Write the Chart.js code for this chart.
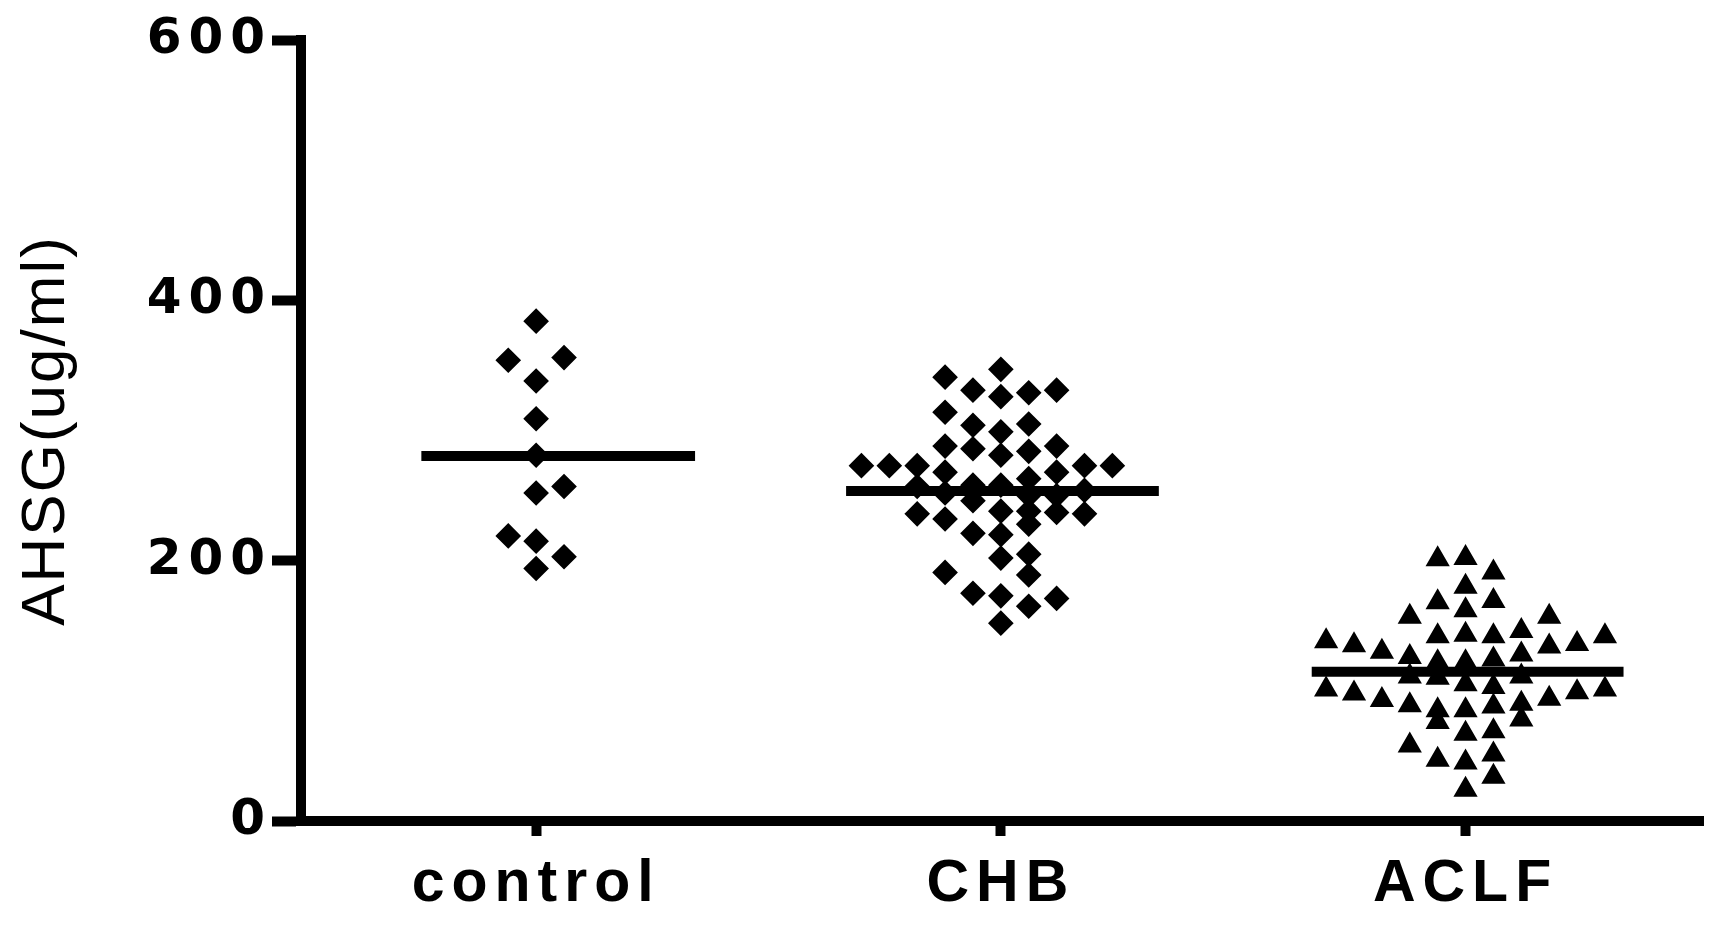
<!DOCTYPE html>
<html>
<head>
<meta charset="utf-8">
<script src="https://cdn.jsdelivr.net/npm/chart.js@4.4.1/dist/chart.umd.min.js"></script>
<style>
  html, body { margin: 0; padding: 0; background: #fff; }
  canvas { display: block; }
</style>
</head>
<body>
<canvas id="chart" width="1724" height="926"></canvas>
<script>
// groups on the x axis
const categories = ['control', 'CHB', 'ACLF'];

// AHSG values (ug/ml), with the column each dot sits in
const controlValues = [384, 354, 356, 338, 309, 281, 252, 257, 219, 215, 203, 194];
const controlCols   = [0, -1, 1, 0, 0, 0, 0, 1, -1, 0, 1, 0];

const chbValues = [
  273,
  273,
  273, 257, 236,
  341, 314, 288, 268, 252, 232, 191,
  331, 304, 286, 258, 246, 221, 175,
  347, 326, 299, 281, 258, 238, 220, 202, 173, 152,
  329, 305, 284, 263, 250, 238, 228, 205, 189, 165,
  331, 288, 268, 250, 237, 171,
  273, 254, 236,
  273
];
const chbCols = [
  -5,
  -4,
  -3, -3, -3,
  -2, -2, -2, -2, -2, -2, -2,
  -1, -1, -1, -1, -1, -1, -1,
  0, 0, 0, 0, 0, 0, 0, 0, 0, 0,
  1, 1, 1, 1, 1, 1, 1, 1, 1, 1,
  2, 2, 2, 2, 2, 2,
  3, 3, 3,
  4
];

const aclfValues = [
  138, 101,
  135, 98,
  130, 93,
  157, 126, 111, 89, 58,
  201, 168, 142, 122, 110, 85, 76, 47,
  202, 180, 162, 143, 122, 105, 85, 67, 45, 24,
  191, 169, 142, 124, 103, 88, 69, 51, 34,
  146, 128, 111, 90, 78,
  157, 134, 94,
  136, 99,
  142, 101
];
const aclfCols = [
  -5, -5,
  -4, -4,
  -3, -3,
  -2, -2, -2, -2, -2,
  -1, -1, -1, -1, -1, -1, -1, -1,
  0, 0, 0, 0, 0, 0, 0, 0, 0, 0,
  1, 1, 1, 1, 1, 1, 1, 1, 1,
  2, 2, 2, 2, 2,
  3, 3, 3,
  4, 4,
  5, 5
];

// group means (the horizontal bars)
const meanValues = [280.5, 253.5, 114.7];

// y axis ticks
const yTicks = [0, 200, 400, 600];

// layout bits
const colStep = 0.06;
const meanLeft = [0.247, 0.333, 0.331];
const meanRight = [0.342, 0.34, 0.34];

function points(group, values, cols) {
  return values.map((v, i) => ({ x: group + 1 + cols[i] * colStep, y: v }));
}

const meanSets = meanValues.map((m, i) => ({
  type: 'line',
  data: [{ x: i + 1 - meanLeft[i], y: m }, { x: i + 1 + meanRight[i], y: m }],
  borderColor: '#000',
  borderWidth: 10,
  pointRadius: 0,
  showLine: true
}));

// letter spacing: a little for the title, wider for the tick labels
const spacingPlugin = {
  id: 'spacing',
  beforeDraw(chart) { chart.ctx.letterSpacing = '2px'; },
  beforeDatasetsDraw(chart) { chart.ctx.letterSpacing = '0px'; },
  afterDatasetsDraw(chart) { chart.ctx.letterSpacing = '7px'; }
};

new Chart(document.getElementById('chart').getContext('2d'), {
  type: 'scatter',
  data: {
    datasets: [
      {
        data: points(0, controlValues, controlCols),
        pointStyle: 'rectRot',
        pointRadius: 10,
        backgroundColor: '#000',
        borderColor: '#000',
        borderWidth: 4
      },
      {
        data: points(1, chbValues, chbCols),
        pointStyle: 'rectRot',
        pointRadius: 10,
        backgroundColor: '#000',
        borderColor: '#000',
        borderWidth: 4
      },
      {
        data: points(2, aclfValues, aclfCols),
        pointStyle: 'triangle',
        pointRadius: 12,
        backgroundColor: '#000',
        borderColor: '#000',
        borderWidth: 2
      },
      ...meanSets
    ]
  },
  options: {
    responsive: false,
    animation: false,
    devicePixelRatio: 1,
    layout: { padding: { left: 0, right: 21, top: 40, bottom: 0 } },
    plugins: {
      legend: { display: false },
      tooltip: { enabled: false }
    },
    scales: {
      x: {
        type: 'linear',
        min: 0.494,
        max: 3.511,
        afterFit: (scale) => { scale.height = 105; },
        afterBuildTicks: (scale) => {
          scale.ticks = categories.map((c, i) => ({ value: i + 1 }));
        },
        border: { display: true, color: '#000', width: 10 },
        grid: {
          drawOnChartArea: false,
          drawTicks: true,
          tickLength: 15,
          tickWidth: 10,
          tickColor: '#000',
          color: '#000'
        },
        ticks: {
          z: 1,
          autoSkip: false,
          maxRotation: 0,
          padding: 13,
          color: '#000',
          font: { family: 'Liberation Sans', size: 59, weight: 'bold' },
          callback: (v) => categories[Math.round(v) - 1]
        }
      },
      y: {
        min: 0,
        max: 600,
        afterFit: (scale) => { scale.width = 301; },
        afterBuildTicks: (scale) => {
          scale.ticks = yTicks.map(v => ({ value: v }));
        },
        border: { display: true, color: '#000', width: 10 },
        grid: {
          drawOnChartArea: false,
          drawTicks: true,
          tickLength: 29,
          tickWidth: 10,
          tickColor: '#000',
          color: '#000'
        },
        ticks: {
          z: 1,
          padding: 0,
          color: '#000',
          font: { family: 'DejaVu Sans', size: 50, weight: 'bold' }
        },
        title: {
          display: true,
          text: 'AHSG(ug/ml)',
          color: '#000',
          padding: { top: 10, bottom: 0 },
          font: { family: 'Liberation Sans', size: 62, weight: 'normal' }
        }
      }
    }
  },
  plugins: [spacingPlugin]
});
</script>
</body>
</html>
